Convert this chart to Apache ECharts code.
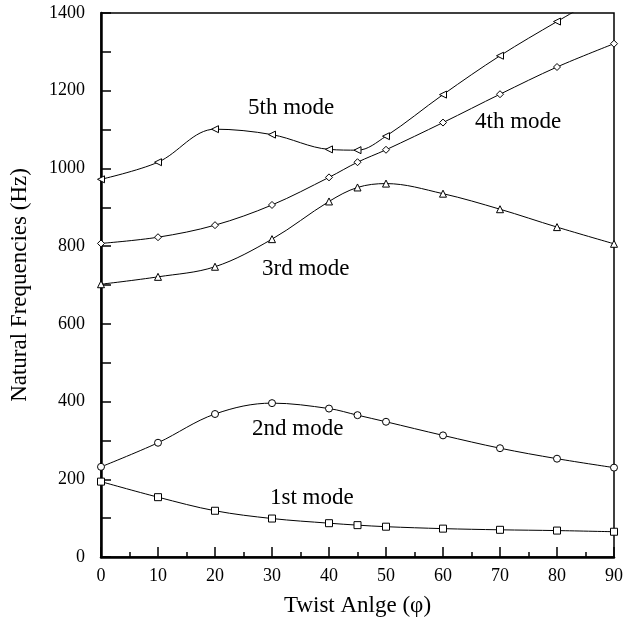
<!DOCTYPE html>
<html>
<head>
<meta charset="utf-8">
<script src="https://cdn.jsdelivr.net/npm/echarts@6/dist/echarts.min.js"></script>
<style>
  html, body { margin: 0; padding: 0; background: #fff; }
  #chart { width: 626px; height: 625px; }
</style>
</head>
<body>
<div id="chart"></div>
<script>
// twist angles (deg)
const angles = [0, 10, 20, 30, 40, 45, 50, 60, 70, 80, 90];
// natural frequencies per mode (Hz)
const mode1 = [194, 154, 119, 99, 87, 82, 78, 73, 70, 68, 65];
const mode2 = [232, 294, 368, 396, 382, 365, 348, 313, 280, 253, 230];
const mode3 = [702, 721, 747, 818, 915, 951, 961, 935, 895, 849, 806];
const mode4 = [807, 823, 854, 906, 977, 1016, 1048, 1118, 1191, 1261, 1321];
const mode5 = [972, 1016, 1101, 1087, 1049, 1047, 1083, 1190, 1290, 1378, 1462];
const modeNames = ['1st mode', '2nd mode', '3rd mode', '4th mode', '5th mode'];

const font = '"Liberation Serif", "DejaVu Serif", serif';

function pairs(vals) {
    return angles.map(function (a, i) { return [a, vals[i]]; });
}

function makeSeries(name, vals, symbol, rotate) {
    return {
        name: name,
        type: 'line',
        data: pairs(vals),
        smooth: 0.35,
        symbol: symbol,
        symbolSize: 7,
        symbolRotate: rotate || 0,
        clip: true,
        lineStyle: { color: '#000', width: 1 },
        itemStyle: { color: '#fff', borderColor: '#000', borderWidth: 1 },
        z: 3
    };
}

// label for a mode curve, x = left edge, y = vertical centre
function modeLabel(text, x, y) {
    return {
        type: 'text', x: x, y: y,
        style: { text: text, font: '23px ' + font, fill: '#000', verticalAlign: 'middle' }
    };
}

const myChart = echarts.init(document.getElementById('chart'));
myChart.setOption({
    animation: false,
    textStyle: { fontFamily: font },
    grid: {
        left: 100, right: 9, top: 13, bottom: 68,
        show: true, borderColor: '#000', borderWidth: 1.5
    },
    xAxis: {
        type: 'value',
        min: 0, max: 90, interval: 10,
        name: 'Twist Anlge (φ)',
        nameLocation: 'middle',
        nameGap: 37,
        nameTextStyle: { fontFamily: font, fontSize: 23, color: '#000' },
        axisLine: { show: true, lineStyle: { color: '#000', width: 2.5 } },
        axisTick: { show: true, inside: true, length: 10, lineStyle: { color: '#000', width: 1.5 } },
        minorTick: { show: true, splitNumber: 2, length: 5, lineStyle: { color: '#000', width: 1.5 } },
        axisLabel: { fontFamily: font, fontSize: 18, color: '#000', margin: 10 },
        splitLine: { show: false }
    },
    yAxis: {
        type: 'value',
        min: 0, max: 1400, interval: 200,
        name: 'Natural Frequencies (Hz)',
        nameLocation: 'middle',
        nameGap: 70,
        nameTextStyle: { fontFamily: font, fontSize: 23, color: '#000' },
        axisLine: { show: true, lineStyle: { color: '#000', width: 2.5 } },
        axisTick: { show: true, inside: true, length: 10, lineStyle: { color: '#000', width: 1.5 } },
        minorTick: { show: true, splitNumber: 2, length: 10, lineStyle: { color: '#000', width: 1.5 } },
        axisLabel: {
            fontFamily: font, fontSize: 18, color: '#000', margin: 16,
            formatter: function (v) { return String(v); }
        },
        splitLine: { show: false }
    },
    graphic: [
        modeLabel(modeNames[4], 248, 108),
        modeLabel(modeNames[3], 475, 122),
        modeLabel(modeNames[2], 262, 269),
        modeLabel(modeNames[1], 252, 429),
        modeLabel(modeNames[0], 270, 498)
    ],
    series: [
        makeSeries(modeNames[0], mode1, 'rect'),
        makeSeries(modeNames[1], mode2, 'circle'),
        makeSeries(modeNames[2], mode3, 'triangle'),
        makeSeries(modeNames[3], mode4, 'diamond'),
        makeSeries(modeNames[4], mode5, 'triangle', 90)
    ]
});
</script>
</body>
</html>
